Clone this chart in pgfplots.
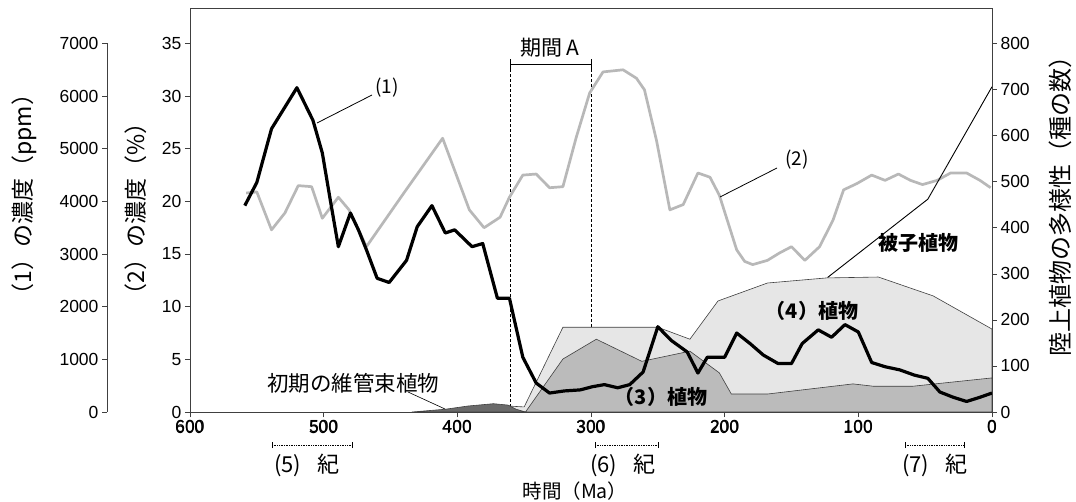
\documentclass[border=0pt]{standalone}
\usepackage{fontspec}
\setmainfont{Liberation Sans}
\newfontfamily\jp{Noto Sans CJK JP}
\usepackage{pgfplots}
\pgfplotsset{compat=1.18}
\definecolor{lg}{HTML}{E6E6E6}
\definecolor{mg}{HTML}{BBBBBB}
\definecolor{dg}{HTML}{6A6A6A}
\definecolor{o2}{HTML}{B8B8B8}
\definecolor{ax}{HTML}{404040}

\pgfplotstableread{
t ppm
559 3920
550 4360
539 5380
520 6160
508 5540
501 4920
495 4020
489 3140
480 3780
474 3460
468 3080
460 2540
451 2460
438 2880
430 3520
419 3920
409 3400
402 3460
389 3140
381 3200
370 2160
361 2160
351 1040
341 550
331 360
320 400
308 420
299 480
290 520
280 460
271 520
261 760
250 1620
240 1360
228 1140
220 740
213 1040
200 1040
191 1500
181 1300
171 1080
160 920
150 920
142 1300
130 1560
120 1420
110 1660
100 1520
90 940
80 860
69 800
58 700
48 640
39 380
29 280
19 200
9 280
0 360
}\co

\pgfplotstableread{
t pct
558 20.8
550 20.9
539 17.3
529 18.9
519 21.5
509 21.4
501 18.4
489 20.4
481 19.2
475 17.6
468 15.7
440 20.8
411 26.0
391 19.2
380 17.5
368 18.5
361 20.4
351 22.5
341 22.6
331 21.3
321 21.4
311 26.1
301 30.3
291 32.3
276 32.5
266 31.7
260 30.6
251 25.8
241 19.2
231 19.7
220 22.7
211 22.3
204 20.6
191 15.4
185 14.3
179 14.0
168 14.4
159 15.1
150 15.7
140 14.4
129 15.7
119 18.2
111 21.1
101 21.7
90 22.5
80 22.0
70 22.6
61 22.0
52 21.6
41 22.0
31 22.7
19 22.7
9 22.0
1 21.3
}\ox

\pgfplotstableread{
t s
365 0
362 13
350 11
321 184
250 184
226 158
205 241
168 280
124 291
85 293
44 252
0 180
}\four

\pgfplotstableread{
t s
349 0
321 115
296 158
262 110
226 132
204 85
195 39
168 39
104 61
89 56
59 56
0 74
}\three

\pgfplotstableread{
t s
434 0
409 6
392 13
373 18
362 15
356 6
349 0
}\early

\pgfplotstableread{
t s
123 292
48 462
0 706
}\angio

\begin{document}
\begin{tikzpicture}
\path[use as bounding box] (0pt,0pt) rectangle (1076pt,501pt);
\pgfplotsset{
  base/.style={
    scale only axis, anchor=south west,
    tick label style={font=\fontsize{17.5}{17.5}\selectfont},
    /pgf/number format/assume math mode=true,
    /pgf/number format/1000 sep={},
    tick align=outside, major tick length=5pt,
    tick style={ax, line width=0.6pt},
    axis line style={ax, line width=0.7pt},
  }
}
% main axis (%)
\begin{axis}[base, at={(190pt,89pt)}, width=802pt, height=404pt,
  xmin=0, xmax=600, x dir=reverse, ymin=0, ymax=38.37,
  xtick={0,100,...,600}, ytick={0,5,...,35},
  xtick pos=lower, ytick pos=left,
  xticklabel style={font=\jp\fontsize{17.5}{17.5}\selectfont},
  clip=false]
\addplot[densely dashed, line width=0.8pt] coordinates {(360,0) (360,33.0)};
\addplot[densely dashed, line width=0.8pt] coordinates {(300,0) (300,33.0)};
\draw[line width=0.7pt] (axis cs:360,33.0) -- (axis cs:300,33.0);
\draw[line width=0.7pt] (axis cs:360,32.5) -- (axis cs:360,33.5);
\draw[line width=0.7pt] (axis cs:300,32.5) -- (axis cs:300,33.5);
\addplot[o2, line width=2.7pt, line join=round] table[x=t, y=pct] {\ox};
\end{axis}
% right axis (species)
\begin{axis}[base, at={(190pt,89pt)}, width=802pt, height=404pt,
  xmin=0, xmax=600, x dir=reverse, ymin=0, ymax=877,
  axis on top, axis x line*=bottom, axis y line*=right,
  xtick={0,100,...,600}, xticklabel={},
  ytick={0,100,...,800}]
\addplot[fill=lg, draw=ax, line width=0.6pt] table[x=t, y=s] {\four} \closedcycle;
\addplot[black, line width=0.9pt] table[x=t, y=s] {\angio};
\addplot[fill=mg, draw=ax, line width=0.6pt] table[x=t, y=s] {\three} \closedcycle;
\addplot[fill=dg, draw=ax, line width=0.6pt] table[x=t, y=s] {\early} \closedcycle;
\end{axis}
% curve (1) in ppm
\begin{axis}[base, at={(190pt,89pt)}, width=802pt, height=404pt,
  xmin=0, xmax=600, x dir=reverse, ymin=0, ymax=7674, hide axis]
\addplot[black, line width=3.2pt, line join=round] table[x=t, y=ppm] {\co};
\end{axis}
% ppm axis spine
\begin{axis}[base, at={(107pt,89pt)}, width=1pt, height=368.5pt,
  xmin=0, xmax=1, ymin=0, ymax=7000,
  axis y line*=left, axis x line=none,
  ytick={0,1000,...,7000}]
\addplot[draw=none] coordinates {(0,0)};
\end{axis}

% annotations
\begin{scope}[x=1pt,y=1pt]
\node[font=\jp\fontsize{19}{19}\selectfont] at (387,413) {(1)};
\draw[line width=0.8pt] (372,406) -- (317,378);
\node[font=\jp\fontsize{19}{19}\selectfont] at (797,341) {(2)};
\draw[line width=0.8pt] (777,333) -- (720,304);
\node[font=\jp\fontsize{21}{21}\selectfont] at (550,453) {期間 A};
\node[font=\jp\bfseries\fontsize{20}{20}\selectfont] at (918,258) {被子植物};
\node[font=\jp\bfseries\fontsize{20}{20}\selectfont] at (812,190) {（4）植物};
\node[font=\jp\bfseries\fontsize{20}{20}\selectfont] at (661,104) {（3）植物};
\node[font=\jp\fontsize{21.5}{21.5}\selectfont] at (353,118) {初期の維管束植物};
\draw[line width=0.6pt] (408,109) -- (445,92);
\foreach \a/\b/\c/\n in {272/352/307/5, 595/658/623/6, 905/964/935/7}{
  \draw[densely dotted, line width=0.7pt] (\a,56) -- (\b,56);
  \draw[line width=0.7pt] (\a,53) -- (\a,59);
  \draw[line width=0.7pt] (\b,53) -- (\b,59);
  \node[font=\jp\fontsize{22}{22}\selectfont] at (\c,36) {(\n)\hspace{0.75em}紀};
}
\node[font=\jp\fontsize{19.5}{19.5}\selectfont] at (575,10) {時間（Ma）};
\node[font=\jp\fontsize{23}{23}\selectfont, rotate=90, anchor=west] at (24,191) {（1）の濃度（ppm）};
\node[font=\jp\fontsize{23}{23}\selectfont, rotate=90, anchor=west] at (136,191) {（2）の濃度（\%）};
\node[font=\jp\fontsize{24}{24}\selectfont, rotate=90] at (1060,301) {陸上植物の多様性（種の数）};
\end{scope}
\end{tikzpicture}
\end{document}
